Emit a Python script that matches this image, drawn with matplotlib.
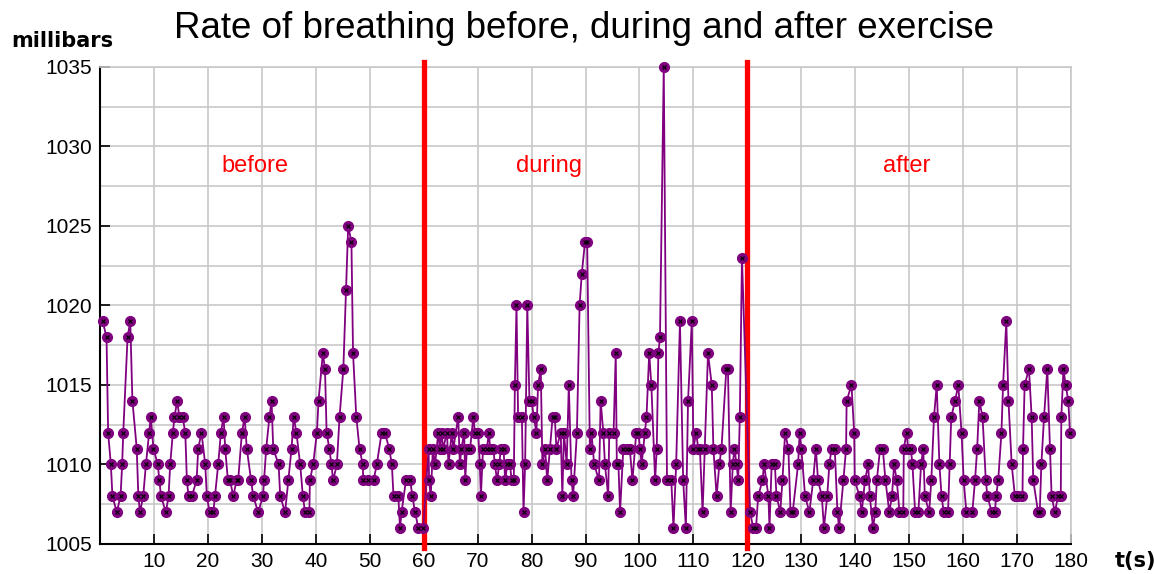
import matplotlib
matplotlib.use('Agg')
import matplotlib.pyplot as plt
from matplotlib import font_manager as fm

# pressure readings (millibars), with their times (s)
t_before = [0.5, 1.2, 1.5, 2.0, 2.3, 3.1, 3.8, 4.1, 4.3, 5.1, 5.6, 6.0, 6.8, 7.1, 7.4,
            8.0, 8.5, 9.1, 9.4, 9.9, 10.7, 11.0, 11.3, 12.2, 12.7, 13.0, 13.5, 13.8,
            14.3, 14.7, 15.3, 15.8, 16.1, 16.4, 17.0, 17.9, 18.2, 18.8, 19.5, 19.8,
            20.3, 21.0, 21.3, 21.9, 22.4, 22.9, 23.2, 23.7, 24.1, 24.7, 25.3, 25.6,
            26.3, 26.8, 27.2, 28.0, 28.4, 29.3, 30.2, 30.4, 30.8, 31.4, 31.8, 32.1,
            33.1, 33.4, 34.3, 34.9, 35.5, 35.9, 36.4, 37.1, 37.6, 38.0, 38.8, 38.9,
            39.5, 40.2, 40.5, 41.3, 41.7, 42.0, 42.5, 42.9, 43.2, 43.9, 44.4, 45.1,
            45.6, 46.0, 46.6, 46.9, 47.5, 48.1, 48.7, 48.8, 49.7, 50.7, 51.3, 52.2,
            52.8, 53.6, 54.1, 54.4, 55.3, 55.6, 55.9, 56.7, 57.5, 57.9, 58.4, 59.0, 59.9]
p_before = [1019, 1018, 1012, 1010, 1008, 1007, 1008, 1010, 1012, 1018, 1019, 1014,
            1011, 1008, 1007, 1008, 1010, 1012, 1013, 1011, 1010, 1009, 1008, 1007,
            1008, 1010, 1012, 1013, 1014, 1013, 1013, 1012, 1009, 1008, 1008, 1009,
            1011, 1012, 1010, 1008, 1007, 1007, 1008, 1010, 1012, 1013, 1011, 1009,
            1009, 1008, 1009, 1009, 1012, 1013, 1011, 1009, 1008, 1007, 1008, 1009,
            1011, 1013, 1014, 1011, 1010, 1008, 1007, 1009, 1011, 1013, 1012, 1010,
            1008, 1007, 1007, 1009, 1010, 1012, 1014, 1017, 1016, 1012, 1011, 1010,
            1009, 1010, 1013, 1016, 1021, 1025, 1024, 1017, 1013, 1011, 1010, 1009,
            1009, 1009, 1010, 1012, 1012, 1011, 1010, 1008, 1008, 1006, 1007, 1009,
            1009, 1008, 1007, 1006, 1006]

t_during = [60.9, 61.0, 61.3, 61.7, 62.1, 62.7, 63.0, 63.3, 63.6, 64.3, 64.6, 65.2,
            65.5, 66.4, 66.7, 67.0, 67.5, 67.7, 68.0, 68.6, 69.2, 69.5, 70.1, 70.4,
            70.6, 71.0, 71.7, 72.1, 72.3, 72.9, 73.2, 73.6, 74.0, 74.3, 74.8, 75.1,
            75.5, 76.0, 76.3, 76.7, 76.9, 77.2, 77.5, 78.2, 78.5, 78.8, 79.2, 79.6,
            80.0, 80.4, 80.9, 81.2, 81.7, 82.0, 82.5, 82.9, 83.4, 83.9, 84.3, 84.6,
            85.4, 85.7, 86.0, 86.5, 86.9, 87.4, 87.7, 88.4, 88.9, 89.3, 89.9, 90.3,
            90.8, 91.1, 91.6, 92.5, 92.8, 93.3, 93.6, 94.2, 94.4, 95.2, 95.6, 95.8,
            96.1, 96.4, 97.0, 97.6, 98.2, 98.7, 99.4, 99.8, 100.1, 100.4, 101.0, 101.3,
            101.8, 102.2, 102.9, 103.2, 103.5, 103.8, 104.5, 105.1, 105.9, 106.3,
            106.8, 107.5, 108.1, 108.6, 109.0, 109.7, 110.0, 110.5, 110.9, 111.2,
            111.7, 112.1, 112.7, 113.4, 113.7, 114.3, 114.8, 115.2, 116.1, 116.4,
            116.9, 117.3, 117.6, 118.0, 118.3, 118.6, 119.0]
p_during = [1011, 1009, 1008, 1011, 1010, 1012, 1011, 1012, 1011, 1012, 1010, 1012,
            1011, 1013, 1010, 1011, 1012, 1009, 1011, 1011, 1013, 1012, 1012, 1010,
            1008, 1011, 1011, 1012, 1011, 1011, 1010, 1009, 1010, 1011, 1011, 1009,
            1010, 1010, 1009, 1009, 1015, 1020, 1013, 1013, 1007, 1010, 1020, 1014,
            1014, 1013, 1012, 1015, 1016, 1010, 1011, 1009, 1011, 1013, 1013, 1011,
            1012, 1008, 1012, 1010, 1015, 1009, 1008, 1012, 1020, 1022, 1024, 1024,
            1011, 1012, 1010, 1009, 1014, 1012, 1010, 1008, 1012, 1012, 1017, 1010,
            1010, 1007, 1011, 1011, 1011, 1009, 1012, 1012, 1011, 1010, 1012, 1013,
            1017, 1015, 1009, 1011, 1017, 1018, 1035, 1009, 1009, 1006,
            1010, 1019, 1009, 1006, 1014, 1019, 1011, 1012, 1011, 1011,
            1007, 1011, 1017, 1015, 1011, 1008, 1010, 1011, 1016, 1016,
            1007, 1010, 1011, 1010, 1009, 1013, 1023]

t_after = [120.5, 121.1, 121.6, 122.0, 122.8, 123.1, 123.9, 124.1, 124.5, 125.1,
           125.4, 126.1, 126.5, 127.0, 127.6, 128.0, 128.4, 129.4, 129.7, 130.0,
           130.7, 131.5, 132.2, 132.7, 133.1, 133.8, 134.2, 134.8, 135.2, 135.6,
           136.2, 136.7, 137.0, 137.8, 138.3, 138.4, 139.3, 139.8, 139.9, 140.8,
           141.2, 141.8, 142.4, 142.7, 143.3, 143.7, 144.0, 144.6, 145.1, 145.6,
           146.3, 146.8, 147.2, 147.7, 148.2, 148.9, 149.0, 149.5, 149.8, 150.3,
           150.6, 151.1, 151.7, 152.2, 152.6, 152.9, 153.7, 154.1, 154.6, 155.1,
           155.6, 156.0, 156.4, 157.2, 157.5, 157.8, 158.5, 159.1, 159.7, 160.1,
           160.6, 161.7, 162.2, 162.6, 163.0, 163.6, 164.2, 164.5, 165.3, 165.9,
           166.1, 166.5, 167.1, 167.4, 168.0, 168.4, 169.0, 169.6, 170.2, 171.0,
           171.1, 171.4, 172.2, 172.7, 173.0, 173.9, 174.2, 174.5, 175.0, 175.6,
           176.1, 176.4, 177.0, 177.6, 178.1, 178.2, 178.6, 179.0, 179.5, 179.8]
p_after = [1007, 1006, 1006, 1008, 1009, 1010, 1008, 1006, 1010, 1010,
           1008, 1007, 1009, 1012, 1011, 1007, 1007, 1010, 1012, 1011,
           1008, 1007, 1009, 1011, 1009, 1008, 1006, 1008, 1010, 1011,
           1011, 1007, 1006, 1009, 1011, 1014, 1015, 1012, 1009, 1008,
           1007, 1009, 1010, 1008, 1006, 1007, 1009, 1011, 1011, 1009,
           1007, 1008, 1010, 1009, 1007, 1007, 1011, 1012, 1011, 1011,
           1010, 1007, 1007, 1010, 1011, 1008, 1007, 1009, 1013, 1015,
           1010, 1008, 1007, 1007, 1010, 1013, 1014, 1015, 1012, 1009,
           1007, 1007, 1009, 1011, 1014, 1013, 1009, 1008, 1007, 1007,
           1008, 1009, 1012, 1015, 1019, 1014, 1010, 1008, 1008, 1008,
           1011, 1015, 1016, 1013, 1009, 1007, 1007, 1010, 1013, 1016,
           1011, 1008, 1007, 1008, 1008, 1013, 1016, 1015, 1014, 1012]

phase_names = ['before', 'during', 'after']
phase_label_x = [28.7, 83.2, 149.6]
phase_bounds = [60, 120]
x_ticks = list(range(10, 181, 10))
y_ticks = [1005, 1010, 1015, 1020, 1025, 1030, 1035]

t = t_before + t_during + t_after
p = p_before + p_during + p_after

installed = {f.name for f in fm.fontManager.ttflist}
tick_font = 'Liberation Sans Narrow' if 'Liberation Sans Narrow' in installed else 'Liberation Sans'

PURPLE = '#800080'
GRID = '#c8c8c8'

fig = plt.figure(figsize=(11.54, 5.74), dpi=100)
ax = fig.add_axes([0.0867, 0.0523, 0.8414, 0.831])

ax.set_xlim(0, 180)
ax.set_ylim(1005, 1035)
ax.set_xticks(x_ticks)
ax.set_yticks(y_ticks)
ax.set_yticks([1007.5 + 5 * i for i in range(6)], minor=True)
ax.grid(True, which='both', color=GRID, lw=1.2)
ax.set_axisbelow(True)
ax.tick_params(which='major', direction='in', length=7, width=1.2, color='black',
               labelsize=15, pad=6)
ax.tick_params(which='minor', length=0)
for lab in ax.get_xticklabels() + ax.get_yticklabels():
    lab.set_fontfamily(tick_font)

for side in ['left', 'bottom']:
    ax.spines[side].set_color('black')
    ax.spines[side].set_linewidth(1.5)
for side in ['top', 'right']:
    ax.spines[side].set_color(GRID)
    ax.spines[side].set_linewidth(1.2)

# red phase boundaries, a little longer than the plot area
for xb in phase_bounds:
    ax.axvline(xb, ymin=-0.008, ymax=1.01, color='red', lw=3.8, zorder=4,
               clip_on=False)

ax.plot(t, p, color=PURPLE, lw=1.3, marker='o', ms=7, mfc=PURPLE, mec=PURPLE,
        zorder=5, clip_on=False)
ax.plot(t, p, ls='none', marker='x', ms=3, color='black', mew=0.8, zorder=6,
        clip_on=False)

for name, xl in zip(phase_names, phase_label_x):
    ax.text(xl, 1028.8, name, color='red', fontsize=17, family='Liberation Sans',
            ha='center', va='center')

fig.text(0.506, 0.95, 'Rate of breathing before, during and after exercise',
         fontsize=26.5, family='Liberation Sans', ha='center', va='center')
fig.text(0.010, 0.918, 'millibars', fontsize=15, fontweight='bold',
         family='DejaVu Sans', ha='left', va='baseline')
fig.text(0.966, 0.012, 't(s)', fontsize=15, fontweight='bold',
         family='DejaVu Sans', ha='left', va='baseline')

fig.savefig('out.png', dpi=100)
